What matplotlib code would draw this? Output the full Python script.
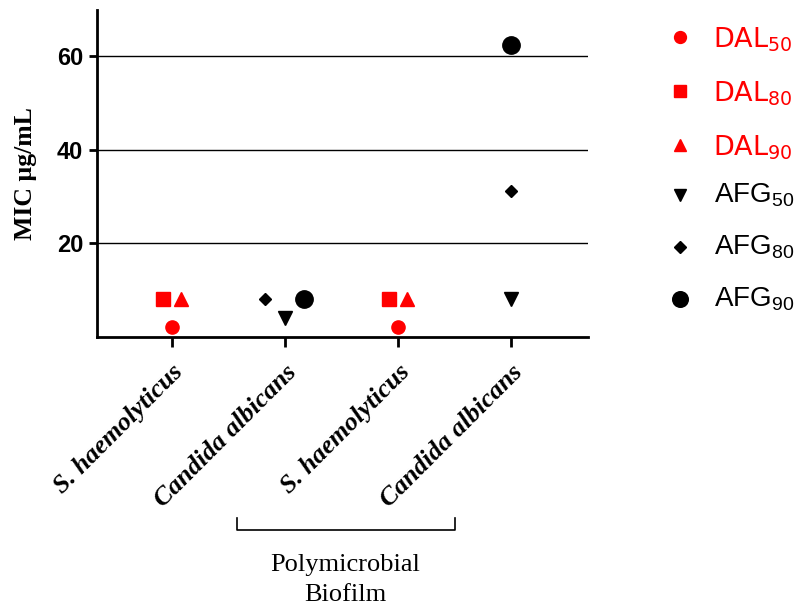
import matplotlib
matplotlib.use("Agg")
import matplotlib.pyplot as plt
from matplotlib.lines import Line2D

plt.rcParams['mathtext.default'] = 'regular'

categories = ["S. haemolyticus", "Candida albicans", "S. haemolyticus", "Candida albicans"]
series_names = ["DAL50", "DAL80", "DAL90", "AFG50", "AFG80", "AFG90"]
legend_labels = ["DAL$_{50}$", "DAL$_{80}$", "DAL$_{90}$", "AFG$_{50}$", "AFG$_{80}$", "AFG$_{90}$"]
# values per category (None = not shown)
DAL50 = [2, None, 2, None]
DAL80 = [8, None, 8, None]
DAL90 = [8, None, 8, None]
AFG50 = [None, 4, None, 8]
AFG80 = [None, 8, None, 31.25]
AFG90 = [None, 8, None, 62.5]
yticks = [20, 40, 60]

series = [DAL50, DAL80, DAL90, AFG50, AFG80, AFG90]
colors = ["#ff0000", "#ff0000", "#ff0000", "black", "black", "black"]
markers = ["o", "s", "^", "v", "D", "o"]
msizes = [9.5, 9.5, 9.5, 9.5, 6.5, 12.5]
# horizontal offsets per series per category (to avoid overlap)
offsets = [
    [0, 0, 0, 0],
    [-0.08, 0, -0.08, 0],
    [0.08, 0, 0.08, 0],
    [0, 0, 0, 0],
    [0, -0.17, 0, 0],
    [0, 0.17, 0, 0],
]

fig = plt.figure(figsize=(8.01, 6.09), dpi=100)
ax = fig.add_axes([0.121, 0.447, 0.613, 0.537])

for y in yticks:
    ax.axhline(y, color="black", lw=1.0, zorder=1)

for s, c, m, ms, off in zip(series, colors, markers, msizes, offsets):
    xs = [i + off[i] for i, v in enumerate(s) if v is not None]
    ys = [v for v in s if v is not None]
    ax.plot(xs, ys, linestyle="none", marker=m, color=c, markersize=ms, zorder=3)

ax.set_xlim(-0.66, 3.68)
ax.set_ylim(0, 70)
ax.set_yticks(yticks)
ax.set_xticks(range(len(categories)))
ax.set_xticklabels(categories, rotation=45, ha="right", va="top",
                   rotation_mode="anchor",
                   fontdict=dict(family="Liberation Serif", weight="bold",
                                 style="italic", size=19))
for lbl in ax.get_yticklabels():
    lbl.set_family("Liberation Sans")
    lbl.set_weight("bold")
    lbl.set_size(17)
ax.spines["top"].set_visible(False)
ax.spines["right"].set_visible(False)
ax.spines["left"].set_linewidth(2)
ax.spines["bottom"].set_linewidth(2)
ax.tick_params(axis="both", width=2, length=6, color="black")
ax.tick_params(axis="y", pad=4)
ax.tick_params(axis="x", length=7, pad=10)

ax.set_ylabel("MIC µg/mL", family="Liberation Serif", weight="bold", size=18.5,
              labelpad=14)

# legend (manual layout to the right of the axes)
leg_y = [37, 91, 145, 195, 247, 299]
for lab, c, m, ms, yy in zip(legend_labels, colors, markers, msizes, leg_y):
    yf = 1 - yy / 609
    fig.add_artist(Line2D([680 / 801], [yf], transform=fig.transFigure,
                          linestyle="none", marker=m, color=c, markersize=ms * 0.9))
    if c != "black":
        fig.text(713 / 801, 1 - (yy + 3) / 609, lab, color=c, family="DejaVu Sans",
                 size=19.5, ha="left", va="center")
    else:
        fig.text(714 / 801, yf, lab, color=c, family="Liberation Sans", size=20,
                 ha="left", va="center")

# bracket for polymicrobial biofilm
bx0, bx1 = 237 / 801, 455 / 801
by_top, by_bot = 1 - 518 / 609, 1 - 530 / 609
fig.add_artist(Line2D([bx0, bx0, bx1, bx1], [by_top, by_bot, by_bot, by_top],
                      transform=fig.transFigure, color="black", lw=1.2))
fig.text(345 / 801, 1 - 580 / 609, "Polymicrobial\nBiofilm", ha="center", va="center",
         family="Liberation Serif", size=19, linespacing=1.5)

fig.savefig("out.png", dpi=100)
